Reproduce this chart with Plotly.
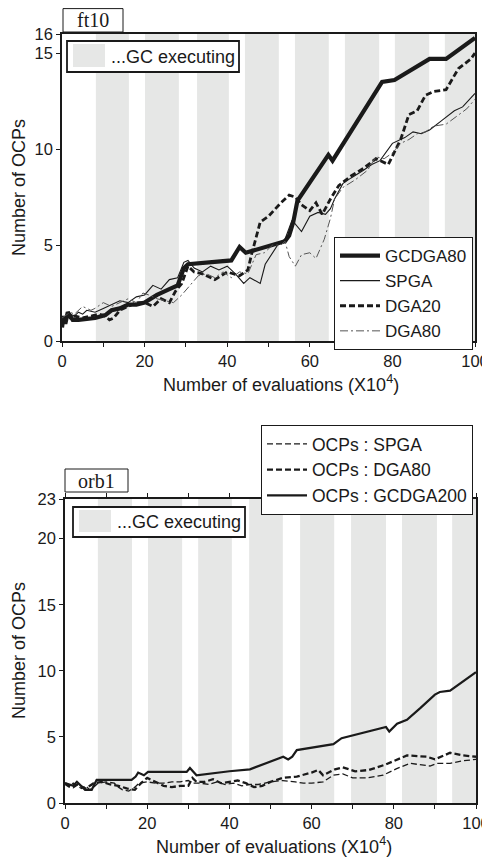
import plotly.graph_objects as go

# page is 490x858; the browser's default body margin offsets the figure by 8 px
OFF = 8
FW, FH = 490 - OFF, 858 - OFF

# ---------------- data: top chart (ft10) ----------------
gc_start_top = [8.2, 20.1, 32.7, 44.3, 56.4, 68.5, 80.6, 92.7]
gc_end_top = [16.2, 28.3, 40.4, 52.5, 64.6, 76.8, 88.9, 100]

x_gcdga80 = [0, 0.4, 0.8, 1.4, 2.6, 4, 8, 10.5, 12, 14, 16, 18, 20, 23, 26, 28, 29.5, 30.5,
             41, 43, 44.5, 54, 55, 56, 57, 64.5, 65.5, 69, 77, 77.5, 80.5, 89, 93, 100]
y_gcdga80 = [0.7, 1.3, 0.9, 1.5, 1.1, 1.1, 1.2, 1.35, 1.6, 1.7, 1.9, 1.9, 2.0, 2.4, 2.7, 2.9, 3.8, 4.0,
             4.2, 4.9, 4.6, 5.2, 5.5, 6.2, 7.3, 9.7, 9.4, 10.6, 13.3, 13.5, 13.6, 14.7, 14.7, 15.8]

x_spga = [0, 1, 2, 3, 4, 5, 6, 8, 10, 12, 14, 16, 18, 20, 22, 24, 26, 28, 29.5, 30.5, 32, 34, 36,
          38, 40, 42, 44, 45.5, 47, 48, 49.2, 52.5, 54, 55.7, 58, 60, 62, 63.8, 65, 66, 68, 70, 73,
          75, 77, 80, 83, 85, 87, 89, 92, 95, 97, 100]
y_spga = [1.3, 1.1, 1.4, 1.3, 1.5, 1.4, 1.6, 1.5, 1.7, 1.9, 2.1, 2.0, 2.3, 2.4, 2.9, 2.7, 3.2, 3.3,
          4.1, 4.2, 3.8, 3.6, 3.9, 3.7, 3.9, 3.5, 3.0, 3.3, 3.1, 3.0, 4.0, 5.1, 5.3, 6.3, 5.7, 6.5,
          6.7, 6.6, 6.9, 7.4, 8.2, 8.5, 8.9, 9.2, 9.4, 10.3, 10.6, 10.9, 10.8, 11.0, 11.5, 12.0,
          12.2, 12.9]

x_dga20 = [0, 1, 2, 3, 5, 7, 9, 10.5, 11.5, 12.5, 14, 16, 18, 20, 22, 24, 26, 27.5, 29, 30.5, 32,
           34, 37, 40, 43, 45, 46, 48, 50, 53, 55, 56.5, 58, 60, 61.5, 63, 65, 67, 70, 73, 76, 79,
           82, 84, 86, 88, 90, 93, 96, 99, 100]
y_dga20 = [1.0, 1.4, 1.2, 1.3, 1.2, 1.3, 1.4, 1.3, 1.1, 1.2, 1.6, 1.8, 2.0, 2.0, 1.8, 2.2, 2.0,
           2.6, 3.0, 3.9, 3.6, 3.5, 3.2, 3.6, 3.4, 3.7, 4.6, 6.2, 6.5, 7.2, 7.6, 7.5, 7.1, 6.8, 7.2,
           6.6, 7.4, 8.1, 8.6, 9.0, 9.5, 9.2, 10.5, 11.8, 12.0, 12.8, 13.0, 13.1, 14.2, 14.7, 15.0]

x_dga80 = [0, 2, 3, 5, 7, 8, 10, 12, 13, 15, 16, 18, 19.6, 21, 23, 25, 27, 29, 31, 33, 35, 37, 39,
           41, 43, 45, 47, 49, 51, 53, 54, 55, 56.5, 58, 60, 61.5, 63.5, 65, 66, 68, 71, 74, 76,
           78, 80, 82, 84, 86, 88, 90, 93, 96, 98, 100]
y_dga80 = [1.2, 1.5, 1.4, 1.8, 1.6, 1.7, 2.0, 1.8, 1.9, 2.1, 2.2, 2.0, 2.5, 2.4, 2.2, 2.1, 2.0,
           2.4, 2.9, 3.4, 3.5, 3.3, 3.6, 3.3, 3.6, 3.5, 4.5, 4.6, 5.0, 5.0, 5.2, 4.4, 3.9, 4.5,
           4.6, 4.3, 5.3, 6.4, 7.4, 8.0, 8.4, 8.9, 9.6, 9.5, 9.8, 10.3, 10.5, 10.8, 10.9, 11.2,
           11.3, 11.8, 12.1, 12.6]

top_xticks = [0, 20, 40, 60, 80, 100]
top_yticks = [0, 5, 10, 15, 16]

# ---------------- data: bottom chart (orb1) ----------------
gc_start_bot = [8.0, 20.2, 32.4, 44.8, 57.2, 69.6, 82.0, 94.2]
gc_end_bot = [16.3, 28.5, 40.6, 53.0, 65.5, 78.1, 90.5, 100]

x_b_spga = [0, 1, 2, 3, 4, 5, 6, 7, 8, 10, 12, 13, 14, 15.5, 17, 18, 20, 22, 24, 26, 28, 30, 31,
            33, 35, 37, 39, 41, 43, 45, 47, 50, 53, 56, 58, 60, 62.8, 65.3, 67.6, 70, 73.5, 77.4,
            80.7, 84, 88.8, 90.5, 93.7, 97, 100]
y_b_spga = [1.4, 1.2, 1.5, 1.3, 1.1, 1.3, 1.0, 1.2, 1.5, 1.6, 1.5, 1.2, 1.0, 0.9, 1.2, 1.5, 1.6,
            1.5, 1.5, 1.6, 1.6, 1.7, 1.5, 1.5, 1.4, 1.6, 1.4, 1.5, 1.3, 1.4, 1.4, 1.6, 1.7, 1.6,
            1.5, 1.5, 1.6, 2.1, 2.2, 1.9, 1.9, 2.1, 2.6, 3.0, 2.8, 3.0, 3.0, 3.2, 3.3]

x_b_dga80 = [0, 1, 2, 3, 5, 6, 7, 9, 11, 13, 15, 17, 18.5, 20, 22, 24, 26, 28, 30, 31, 32, 34, 36,
             38, 40, 42, 44, 46, 48, 50, 53, 56.4, 60, 61.6, 62.8, 65.7, 67.6, 70.6, 74, 77.9,
             83.2, 88.1, 90, 93.7, 96.9, 100]
y_b_dga80 = [1.5, 1.3, 1.2, 1.4, 1.1, 1.3, 1.5, 1.6, 1.4, 1.3, 1.1, 1.0, 1.5, 1.9, 1.6, 1.3, 1.2,
             1.3, 1.3, 1.9, 1.6, 1.6, 1.8, 1.5, 1.6, 1.7, 1.5, 1.2, 1.3, 1.6, 1.9, 2.0, 2.3, 2.5,
             2.1, 2.55, 2.7, 2.4, 2.5, 2.9, 3.6, 3.5, 3.3, 3.8, 3.6, 3.5]

x_b_gcdga200 = [0, 2, 2.9, 4.9, 6.5, 7.2, 7.7, 16.2, 17.2, 17.8, 19.2, 20.2, 29.6, 30.4, 32, 40,
                44.2, 45, 53.1, 54.3, 55.3, 56.4, 65.3, 67.3, 78.1, 78.9, 80.8, 83.2, 86.5, 90,
                91.2, 93.7, 100]
y_b_gcdga200 = [1.5, 1.3, 1.6, 1.0, 1.0, 1.4, 1.75, 1.75, 2.0, 2.3, 2.1, 2.35, 2.35, 2.65, 2.1,
                2.4, 2.55, 2.55, 3.5, 3.3, 3.5, 4.0, 4.45, 4.9, 5.75, 5.4, 6.0, 6.3, 7.2, 8.2, 8.4,
                8.5, 9.9]

bot_xticks = [0, 20, 40, 60, 80, 100]
bot_yticks = [0, 5, 10, 15, 20, 23]

x_title = "Number of evaluations (X10<sup>4</sup>)"
y_title = "Number of OCPs"

# ---------------- figure ----------------
INK = "#1a1a1a"
GRAY = "#e6e7e6"
SANS = "Liberation Sans, Arial, sans-serif"
SERIF = "Liberation Serif, Times New Roman, serif"


def px_x(p):
    return (p - OFF) / FW


def px_y(p):
    return 1 - (p - OFF) / FH


fig = go.Figure()

# top traces
fig.add_trace(go.Scatter(x=x_gcdga80, y=y_gcdga80, mode="lines", name="GCDGA80",
                         line=dict(color=INK, width=4.2), xaxis="x", yaxis="y", legend="legend"))
fig.add_trace(go.Scatter(x=x_spga, y=y_spga, mode="lines", name="SPGA",
                         line=dict(color=INK, width=1.1), xaxis="x", yaxis="y", legend="legend"))
fig.add_trace(go.Scatter(x=x_dga20, y=y_dga20, mode="lines", name="DGA20",
                         line=dict(color=INK, width=2.8, dash="6px,3px"), xaxis="x", yaxis="y",
                         legend="legend"))
fig.add_trace(go.Scatter(x=x_dga80, y=y_dga80, mode="lines", name="DGA80",
                         line=dict(color="#555555", width=1.0, dash="8px,3px,2px,3px"),
                         xaxis="x", yaxis="y", legend="legend"))

# bottom traces
fig.add_trace(go.Scatter(x=x_b_spga, y=y_b_spga, mode="lines", name="OCPs : SPGA",
                         line=dict(color=INK, width=1.3, dash="6px,3px"), xaxis="x2", yaxis="y2",
                         legend="legend2"))
fig.add_trace(go.Scatter(x=x_b_dga80, y=y_b_dga80, mode="lines", name="OCPs : DGA80",
                         line=dict(color=INK, width=2.3, dash="6px,3px"), xaxis="x2", yaxis="y2",
                         legend="legend2"))
fig.add_trace(go.Scatter(x=x_b_gcdga200, y=y_b_gcdga200, mode="lines", name="OCPs : GCDGA200",
                         line=dict(color=INK, width=2.2), xaxis="x2", yaxis="y2",
                         legend="legend2"))

shapes = []
for a, b in zip(gc_start_top, gc_end_top):
    shapes.append(dict(type="rect", xref="x", yref="y domain", x0=a, x1=b, y0=0, y1=1,
                       fillcolor=GRAY, line=dict(width=0), layer="below"))
for a, b in zip(gc_start_bot, gc_end_bot):
    shapes.append(dict(type="rect", xref="x2", yref="y2 domain", x0=a, x1=b, y0=0, y1=1,
                       fillcolor=GRAY, line=dict(width=0), layer="below"))


def box(x0, y0, x1, y1, fill="white", lw=1.2):
    return dict(type="rect", xref="paper", yref="paper", x0=px_x(x0), x1=px_x(x1),
                y0=px_y(y1), y1=px_y(y0), fillcolor=fill,
                line=dict(color=INK, width=lw) if lw else dict(width=0), layer="above")


# title boxes
shapes.append(box(63, 8.6, 123, 32, lw=1))
shapes.append(box(65, 469, 128, 492, lw=1))
# GC legend boxes
shapes.append(box(67, 41, 239, 72, lw=1.8))
shapes.append(box(73, 44, 105, 67, fill=GRAY, lw=0))
shapes.append(box(73, 507, 245, 537, lw=1.8))
shapes.append(box(79, 510, 111, 532, fill=GRAY, lw=0))


def ann(text, x, y, size, family=SANS, xanchor="center", angle=0):
    return dict(text=text, x=px_x(x), y=px_y(y), xref="paper", yref="paper", showarrow=False,
                font=dict(family=family, size=size, color=INK), xanchor=xanchor,
                yanchor="middle", textangle=angle)


annotations = [
    ann("ft10", 93, 20.5, 20, SERIF),
    ann("orb1", 96.5, 480.5, 20, SERIF),
    ann("...GC executing", 109, 57, 18, xanchor="left"),
    ann("...GC executing", 115, 522, 18, xanchor="left"),
    ann(x_title, 281, 383, 18),
    ann(x_title, 274, 845, 18),
    ann(y_title, 19, 188, 18, angle=-90),
    ann(y_title, 19, 651, 18, angle=-90),
]

axis_common = dict(showline=True, linecolor=INK, linewidth=1.5, ticks="outside", ticklen=4,
                   tickwidth=1.2, tickcolor=INK, showgrid=False, zeroline=False,
                   automargin=False,
                   tickfont=dict(family=SANS, size=16.5, color=INK))
minor_x = dict(dtick=10, ticks="outside", ticklen=4, tickcolor=INK)

fig.update_layout(
    width=FW, height=FH, margin=dict(l=0, r=0, t=0, b=0, pad=0),
    paper_bgcolor="white", plot_bgcolor="white",
    font=dict(family=SANS, color=INK),
    shapes=shapes, annotations=annotations,
    xaxis=dict(domain=[px_x(62), px_x(475)], anchor="y", range=[0, 100], tickvals=top_xticks,
               mirror=True, minor=minor_x, **axis_common),
    yaxis=dict(domain=[px_y(341), px_y(34)], anchor="x", range=[0, 16], tickvals=top_yticks,
               mirror=True, **axis_common),
    xaxis2=dict(domain=[px_x(65), px_x(476)], anchor="y2", range=[0, 100], tickvals=bot_xticks,
                mirror="allticks", minor=minor_x, **axis_common),
    yaxis2=dict(domain=[px_y(803), px_y(499)], anchor="x2", range=[0, 23], tickvals=bot_yticks,
                mirror=True, **axis_common),
    legend=dict(x=px_x(334), y=px_y(237), xanchor="left", yanchor="top",
                bgcolor="white", bordercolor=INK, borderwidth=1,
                font=dict(family=SANS, size=17, color=INK), tracegroupgap=0,
                itemwidth=40),
    legend2=dict(x=px_x(261), y=px_y(425), xanchor="left", yanchor="top",
                 bgcolor="white", bordercolor=INK, borderwidth=1,
                 font=dict(family=SANS, size=17.5, color=INK), tracegroupgap=0,
                 itemwidth=40),
)

fig.write_html("out.html")
